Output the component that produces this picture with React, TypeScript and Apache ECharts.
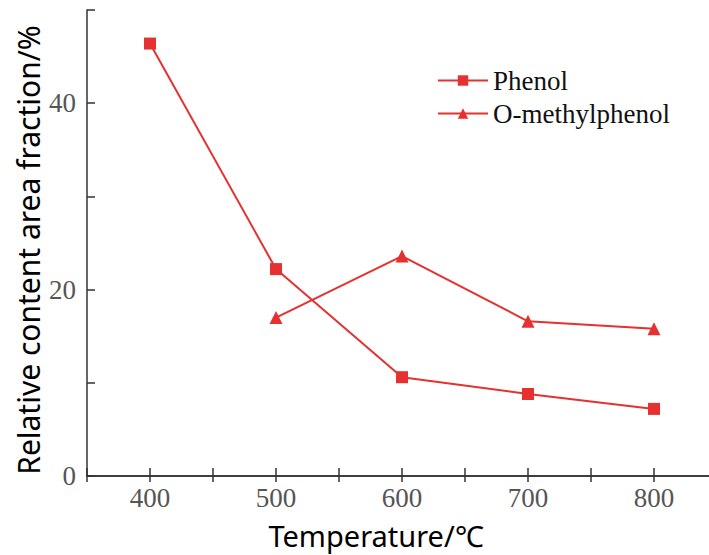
import React, { useEffect, useRef } from "react";
import * as echarts from "echarts";

const temperatures = [400, 500, 600, 700, 800];
const phenol = [46.4, 22.2, 10.6, 8.8, 7.2];
const oMethylTemps = [500, 600, 700, 800];
const oMethylphenol = [17.0, 23.6, 16.6, 15.8];
const xTickLabels = [400, 500, 600, 700, 800];
const yTickLabels = [0, 20, 40];

const RED = "#e5312f";
const SERIF = "'Liberation Serif', 'DejaVu Serif', serif";
const SANS = "'Noto Sans', 'Open Sans', sans-serif";

export default function App() {
  const ref = useRef<HTMLDivElement>(null);
  useEffect(() => {
    document.body.style.margin = "0";
    const chart = echarts.init(ref.current!, null, { renderer: "svg" });
    const axisLine = { show: true, lineStyle: { color: "#333", width: 1.5 } };
    chart.setOption({
      animation: false,
      backgroundColor: "#fff",
      grid: { left: 87, top: 10, width: 630, height: 466, outerBoundsMode: "none" },
      legend: {
        orient: "vertical",
        left: 432,
        top: 62,
        itemWidth: 50,
        itemHeight: 13,
        itemGap: 6,
        textStyle: { fontFamily: SERIF, fontSize: 27, color: "#111" },
        data: ["Phenol", "O-methylphenol"],
      },
      xAxis: [
        {
          type: "value",
          min: 350,
          max: 850,
          interval: 50,
          position: "bottom",
          axisLine,
          axisTick: { show: true, inside: true, length: 8, lineStyle: { color: "#333", width: 1.5 } },
          axisLabel: {
            margin: 8,
            fontFamily: SERIF,
            fontSize: 27,
            color: "#555",
            formatter: (v: number) => (xTickLabels.includes(v) ? String(v) : ""),
          },
          splitLine: { show: false },
        },
        {
          type: "value",
          min: 350,
          max: 850,
          interval: 50,
          position: "top",
          axisLine,
          axisTick: { show: true, inside: true, length: 6, lineStyle: { color: "#333", width: 1.5 } },
          axisLabel: { show: false },
          splitLine: { show: false },
        },
      ],
      yAxis: [
        {
          type: "value",
          min: 0,
          max: 50,
          interval: 10,
          position: "left",
          axisLine,
          axisTick: { show: true, inside: true, length: 8, lineStyle: { color: "#333", width: 1.5 } },
          axisLabel: {
            margin: 11,
            fontFamily: SERIF,
            fontSize: 27,
            color: "#555",
            formatter: (v: number) => (yTickLabels.includes(v) ? String(v) : ""),
          },
          splitLine: { show: false },
        },
        {
          type: "value",
          min: 0,
          max: 50,
          interval: 10,
          position: "right",
          axisLine,
          axisTick: { show: false },
          axisLabel: { show: false },
          splitLine: { show: false },
        },
      ],
      graphic: [
        {
          type: "text",
          x: 376,
          y: 535,
          style: {
            text: "Temperature/℃",
            font: `29px ${SANS}`,
            fill: "#000",
            textAlign: "center",
            textVerticalAlign: "middle",
          },
        },
        {
          type: "text",
          x: 28,
          y: 250,
          rotation: Math.PI / 2,
          style: {
            text: "Relative content area fraction/%",
            font: `30px ${SANS}`,
            fill: "#000",
            textAlign: "center",
            textVerticalAlign: "middle",
          },
        },
      ],
      series: [
        {
          name: "Phenol",
          type: "line",
          data: temperatures.map((t, i) => [t, phenol[i]]),
          symbol: "rect",
          symbolSize: 12,
          itemStyle: { color: RED },
          lineStyle: { color: RED, width: 2 },
        },
        {
          name: "O-methylphenol",
          type: "line",
          data: oMethylTemps.map((t, i) => [t, oMethylphenol[i]]),
          symbol: "triangle",
          symbolSize: 13,
          itemStyle: { color: RED },
          lineStyle: { color: RED, width: 2 },
        },
      ],
    });
    return () => chart.dispose();
  }, []);
  return <div ref={ref} style={{ width: 709, height: 555 }} />;
}
